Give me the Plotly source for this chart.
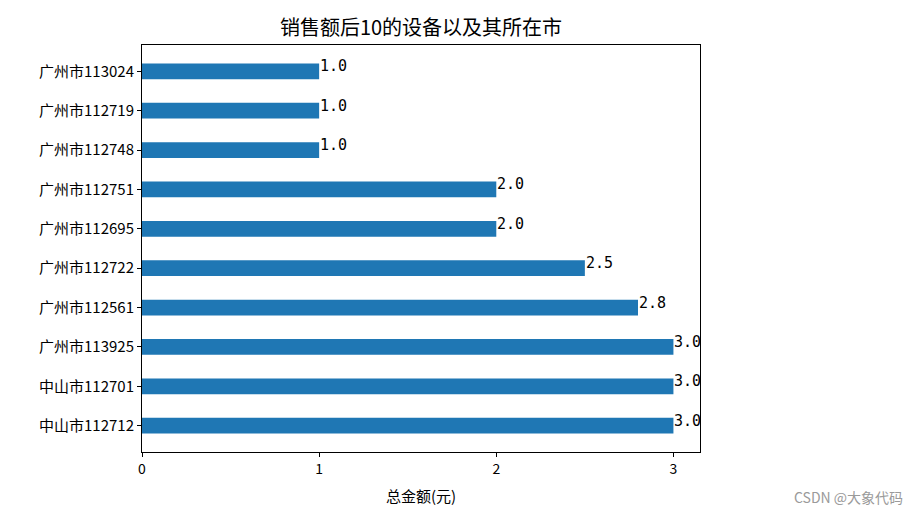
import plotly.graph_objects as go

# Data (listed bottom-to-top, as plotted)
devices = ["中山市112712", "中山市112701", "广州市113925", "广州市112561", "广州市112722",
           "广州市112695", "广州市112751", "广州市112748", "广州市112719", "广州市113024"]
amounts = [3.0, 3.0, 3.0, 2.8, 2.5, 2.0, 2.0, 1.0, 1.0, 1.0]
x_ticks = [0, 1, 2, 3]

title = "销售额后10的设备以及其所在市"
x_title = "总金额(元)"
watermark = "CSDN @大象代码"

FONT = "Noto Sans CJK SC"

# page body adds 8px offset; compensate
W, H = 913, 511
L, R, T, B = 134, 221, 37, 67
PW, PH = W - L - R, H - T - B

fig = go.Figure()
fig.add_trace(go.Bar(
    x=amounts, y=devices, orientation="h", width=0.4,
    marker=dict(color="#1f77b4", line=dict(width=0)),
    hoverinfo="x+y",
))

for d, v in zip(devices, amounts):
    fig.add_annotation(x=v, y=d, text=f"{v:.1f}", showarrow=False,
                       xanchor="left", yanchor="bottom", yshift=-6, xshift=-1,
                       font=dict(family="DejaVu Sans Mono", size=15, color="black"))

fig.add_annotation(xref="paper", yref="paper",
                   x=(905 - 8 - L) / PW, y=-(497 - 8 - (T + PH)) / PH,
                   text=watermark, showarrow=False, xanchor="right", yanchor="middle",
                   font=dict(family=FONT, size=14, color="#9a9a9a"))

fig.update_layout(
    width=W, height=H,
    margin=dict(l=L, r=R, t=T, b=B),
    paper_bgcolor="white", plot_bgcolor="white",
    showlegend=False,
    title=dict(text=title, x=413 / W, xanchor="center", y=1 - 20 / H, yanchor="middle",
               font=dict(family=FONT, size=20, color="black")),
    font=dict(family=FONT, color="black"),
    xaxis=dict(range=[0, 3.15], tickvals=x_ticks, ticks="outside", ticklen=4, tickcolor="black",
               showline=True, linecolor="black", linewidth=1, mirror=True, showgrid=False,
               zeroline=False, tickfont=dict(size=14, family=FONT),
               title=dict(text=x_title, font=dict(size=15, family=FONT), standoff=14)),
    yaxis=dict(type="category", categoryorder="array", categoryarray=devices,
               range=[-0.67, 9.67], ticks="outside", ticklen=4, tickcolor="black",
               showline=True, linecolor="black", linewidth=1, mirror=True, showgrid=False,
               zeroline=False, tickfont=dict(size=15, family=FONT)),
)

fig.write_html("out.html")
